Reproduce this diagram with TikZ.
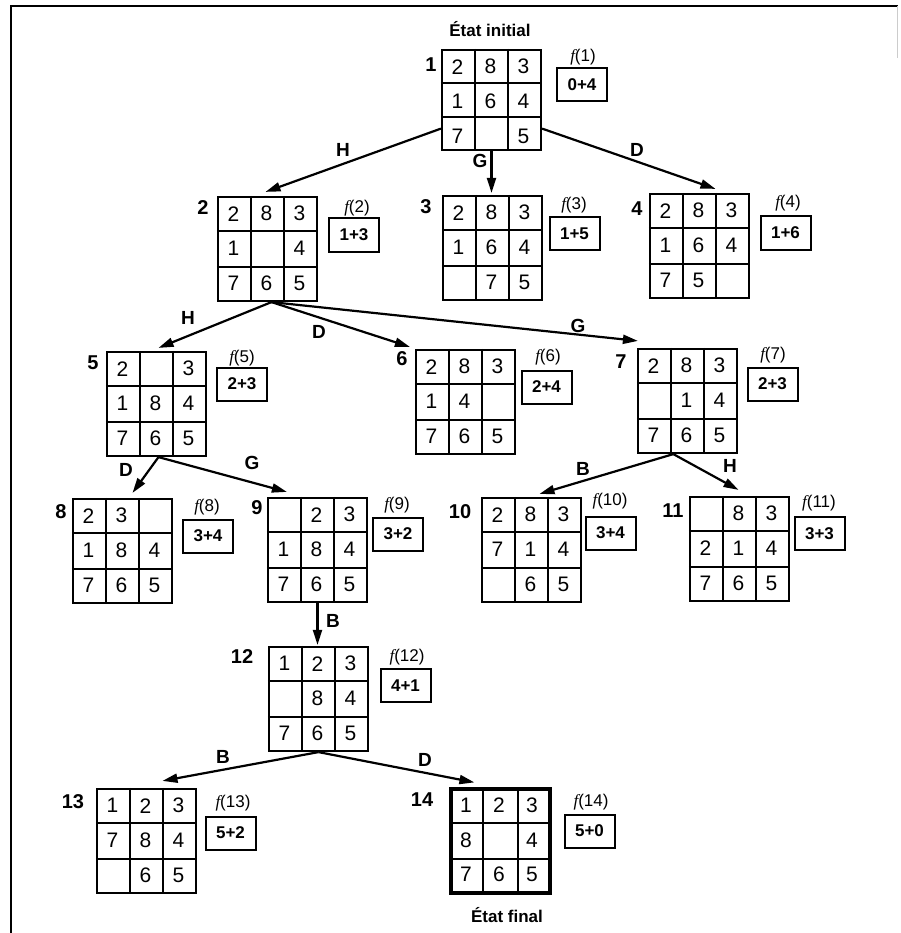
\documentclass[tikz,border=0pt]{standalone}
\usepackage{fontspec}
\setmainfont{Liberation Sans}
\newfontfamily\fitalic{Liberation Serif}
\usetikzlibrary{arrows.meta,calc}
\tikzset{
 grid/.style={draw, line width=2.2pt, inner sep=0pt, minimum width=99pt, minimum height=104pt},
 finalgrid/.style={grid, line width=3.2pt},
 gridline/.style={line width=2pt},
 digit/.style={font=\fontsize{21}{21}\selectfont, inner sep=0pt},
 lbl/.style={font=\bfseries\fontsize{20}{20}\selectfont, inner sep=0pt},
 flab/.style={font=\fontsize{17}{17}\selectfont, inner sep=0pt},
 fbox/.style={draw, line width=2pt, minimum width=50pt, minimum height=33pt, inner sep=0pt, font=\bfseries\fontsize{17}{17}\selectfont},
 mv/.style={font=\bfseries\fontsize{19}{19}\selectfont, inner sep=0pt},
 arr/.style={line width=2.2pt, -{Triangle[length=15pt,width=9pt]}},
 title/.style={font=\bfseries\fontsize{17}{17}\selectfont, inner sep=0pt},
 frame/.style={line width=2.5pt},
}
\newcommand{\puz}[5]{%
 \node[#2] (#1) at (#3+49.5,#4+52) {};
 \draw[gridline] ($(#1.north west)!1/3!(#1.north east)$) -- ($(#1.south west)!1/3!(#1.south east)$);
 \draw[gridline] ($(#1.north west)!2/3!(#1.north east)$) -- ($(#1.south west)!2/3!(#1.south east)$);
 \draw[gridline] ($(#1.north west)!1/3!(#1.south west)$) -- ($(#1.north east)!1/3!(#1.south east)$);
 \draw[gridline] ($(#1.north west)!2/3!(#1.south west)$) -- ($(#1.north east)!2/3!(#1.south east)$);
 \foreach \v [count=\i from 0] in {#5} {%
   \ifnum\v>0
   \pgfmathtruncatemacro{\row}{int(\i/3)}%
   \pgfmathtruncatemacro{\col}{mod(\i,3)}%
   \node[digit] (#1-\i) at ($(#1.north west)+(16.5+33*\col,17.8+34.67*\row)$) {\v};
   \fi
 }%
}
\newcommand{\fval}[6]{% name, label x, label y, box center x, box center y, value
 \node[flab] (f#1) at (#2,#3) {{\fitalic\itshape f}(#1)};
 \node[fbox] (b#1) at (#4,#5) {#6};
}
\begin{document}
\begin{tikzpicture}[x=1pt,y=-1pt]
\useasboundingbox (0,0) rectangle (900,933);
% frame
\coordinate (ftl) at (11,6);
\coordinate (ftr) at (898,6);
\coordinate (fbl) at (11,933);
\draw[frame] (ftr) -- (ftl) -- (fbl);
\draw[gray!40, line width=1pt] (897,6) -- (897,58);

% puzzles
\puz{g1}{grid,minimum height=100pt}{442}{48}{2,8,3,1,6,4,7,0,5}
\puz{g2}{grid}{218}{197}{2,8,3,1,0,4,7,6,5}
\puz{g3}{grid}{443}{196}{2,8,3,1,6,4,0,7,5}
\puz{g4}{grid}{650}{194}{2,8,3,1,6,4,7,5,0}
\puz{g5}{grid}{107}{352}{2,0,3,1,8,4,7,6,5}
\puz{g6}{grid}{416}{350}{2,8,3,1,4,0,7,6,5}
\puz{g7}{grid}{638}{349}{2,8,3,0,1,4,7,6,5}
\puz{g8}{grid}{73}{499}{2,3,0,1,8,4,7,6,5}
\puz{g9}{grid}{268}{498}{0,2,3,1,8,4,7,6,5}
\puz{g10}{grid}{482}{498}{2,8,3,7,1,4,0,6,5}
\puz{g11}{grid}{690}{497}{0,8,3,2,1,4,7,6,5}
\puz{g12}{grid}{269}{647}{1,2,3,0,8,4,7,6,5}
\puz{g13}{grid}{97}{789}{1,2,3,7,8,4,0,6,5}
\puz{g14}{finalgrid}{451}{789}{1,2,3,8,0,4,7,6,5}

% state numbers
\node[lbl] (n1) at (431,65) {1};
\node[lbl] (n2) at (203,208) {2};
\node[lbl] (n3) at (426,207) {3};
\node[lbl] (n4) at (637,209) {4};
\node[lbl] (n5) at (93,363) {5};
\node[lbl] (n6) at (402,359) {6};
\node[lbl] (n7) at (621,362) {7};
\node[lbl] (n8) at (61,512) {8};
\node[lbl] (n9) at (257,508) {9};
\node[lbl] (n10) at (460,512) {10};
\node[lbl] (n11) at (673,511) {11};
\node[lbl] (n12) at (242,657) {12};
\node[lbl] (n13) at (73,802) {13};
\node[lbl] (n14) at (422,800) {14};

% f values
\fval{1}{583}{57}{582}{85}{0+4}
\fval{2}{357}{208}{354}{235}{1+3}
\fval{3}{574}{205}{574.5}{233.5}{1+5}
\fval{4}{788}{203}{785.5}{233}{1+6}
\fval{5}{242}{358}{242}{384}{2+3}
\fval{6}{548}{357}{546.5}{387}{2+4}
\fval{7}{773}{355}{772.5}{384}{2+3}
\fval{8}{207}{507}{208}{536}{3+4}
\fval{9}{397}{505}{398}{534}{3+2}
\fval{10}{610}{501}{610.5}{533}{3+4}
\fval{11}{819}{503}{819.5}{533.5}{3+3}
\fval{12}{407}{657}{405.5}{685.5}{4+1}
\fval{13}{233}{803}{230.5}{833}{5+2}
\fval{14}{591}{802}{589.5}{831}{5+0}

% titles
\node[title] (tinit) at (490,29) {État initial};
\node[title] (tfin) at (507,915) {État final};

% moves
\draw[arr] ($(g1.south west)!0.22!(g1.north west)$) -- ($(g2.north)+(-2,-4)$);
\draw[arr] (g1.south) -- ($(g1.south |- g3.north)+(0,-2)$);
\draw[arr] ($(g1.south east)!0.22!(g1.north east)$) -- ($(g4.north)+(16,-4)$);
\draw[arr] ($(g2.south)+(4,0)$) -- ($(g5.north)+(2,-3)$);
\draw[arr] ($(g2.south)+(4,0)$) -- ($(g6.north west)+(-5,-2)$);
\draw[arr] ($(g2.south)+(4,0)$) -- ($(g7.north west)+(1,-7)$);
\draw[arr] ($(g5.south)+(2,0)$) -- ($(g8.north)+(10,-5)$);
\draw[arr] ($(g5.south)+(2,0)$) -- ($(g9.north west)+(20,-5)$);
\draw[arr] ($(g7.south west)!0.36!(g7.south east)$) -- ($(g10.north)+(8,-3)$);
\draw[arr] ($(g7.south west)!0.36!(g7.south east)$) -- ($(g11.north)+(-1,-6)$);
\draw[arr] (g9.south) -- ($(g9.south |- g12.north)+(0,-1)$);
\draw[arr] (g12.south) -- ($(g13.north)+(16,-7)$);
\draw[arr] (g12.south) -- ($(g14.north west)+(25,-5)$);

% move labels
\node[mv] (mH1) at (343,150) {H};
\node[mv] (mG1) at (480,161) {G};
\node[mv] (mD1) at (637,150) {D};
\node[mv] (mH2) at (188,318) {H};
\node[mv] (mD2) at (319,332) {D};
\node[mv] (mG2) at (578,326) {G};
\node[mv] (mD5) at (126,470) {D};
\node[mv] (mG5) at (252,463) {G};
\node[mv] (mB7) at (583,469) {B};
\node[mv] (mH7) at (730,466) {H};
\node[mv] (mB9) at (333,621) {B};
\node[mv] (mB12) at (223,757) {B};
\node[mv] (mD12) at (425,760) {D};
\end{tikzpicture}
\end{document}
